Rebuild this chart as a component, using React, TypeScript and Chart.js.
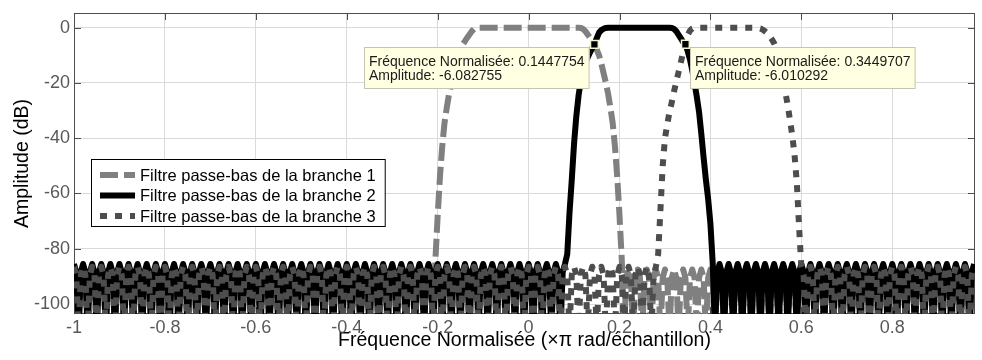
import React, { useEffect, useRef } from 'react';
import { Chart, registerables } from 'chart.js';

Chart.register(...registerables);

const FONT = "'Liberation Sans', Arial, Helvetica, sans-serif";

// Normalised frequency grid (x pi rad/sample)
const freq = [
  -1, -0.995, -0.99, -0.985, -0.98, -0.975, -0.97, -0.965,
  -0.96, -0.955, -0.95, -0.945, -0.94, -0.935, -0.93, -0.925,
  -0.92, -0.915, -0.91, -0.905, -0.9, -0.895, -0.89, -0.885,
  -0.88, -0.875, -0.87, -0.865, -0.86, -0.855, -0.85, -0.845,
  -0.84, -0.835, -0.83, -0.825, -0.82, -0.815, -0.81, -0.805,
  -0.8, -0.795, -0.79, -0.785, -0.78, -0.775, -0.77, -0.765,
  -0.76, -0.755, -0.75, -0.745, -0.74, -0.735, -0.73, -0.725,
  -0.72, -0.715, -0.71, -0.705, -0.7, -0.695, -0.69, -0.685,
  -0.68, -0.675, -0.67, -0.665, -0.66, -0.655, -0.65, -0.645,
  -0.64, -0.635, -0.63, -0.625, -0.62, -0.615, -0.61, -0.605,
  -0.6, -0.595, -0.59, -0.585, -0.58, -0.575, -0.57, -0.565,
  -0.56, -0.555, -0.55, -0.545, -0.54, -0.535, -0.53, -0.525,
  -0.52, -0.515, -0.51, -0.505, -0.5, -0.495, -0.49, -0.485,
  -0.48, -0.475, -0.47, -0.465, -0.46, -0.455, -0.45, -0.445,
  -0.44, -0.435, -0.43, -0.425, -0.42, -0.415, -0.41, -0.405,
  -0.4, -0.395, -0.39, -0.385, -0.38, -0.375, -0.37, -0.365,
  -0.36, -0.355, -0.35, -0.345, -0.34, -0.335, -0.33, -0.325,
  -0.32, -0.315, -0.31, -0.305, -0.3, -0.295, -0.29, -0.285,
  -0.28, -0.275, -0.27, -0.265, -0.26, -0.255, -0.25, -0.245,
  -0.24, -0.235, -0.23, -0.225, -0.22, -0.215, -0.21, -0.205,
  -0.2, -0.195, -0.19, -0.185, -0.18, -0.175, -0.17, -0.165,
  -0.16, -0.155, -0.15, -0.145, -0.14, -0.135, -0.13, -0.125,
  -0.12, -0.115, -0.11, -0.105, -0.1, -0.095, -0.09, -0.085,
  -0.08, -0.075, -0.07, -0.065, -0.06, -0.055, -0.05, -0.045,
  -0.04, -0.035, -0.03, -0.025, -0.02, -0.015, -0.01, -0.005,
  0, 0.005, 0.01, 0.015, 0.02, 0.025, 0.03, 0.035,
  0.04, 0.045, 0.05, 0.055, 0.06, 0.065, 0.07, 0.075,
  0.08, 0.085, 0.09, 0.095, 0.1, 0.105, 0.11, 0.115,
  0.12, 0.125, 0.13, 0.135, 0.14, 0.145, 0.15, 0.155,
  0.16, 0.165, 0.17, 0.175, 0.18, 0.185, 0.19, 0.195,
  0.2, 0.205, 0.21, 0.215, 0.22, 0.225, 0.23, 0.235,
  0.24, 0.245, 0.25, 0.255, 0.26, 0.265, 0.27, 0.275,
  0.28, 0.285, 0.29, 0.295, 0.3, 0.305, 0.31, 0.315,
  0.32, 0.325, 0.33, 0.335, 0.34, 0.345, 0.35, 0.355,
  0.36, 0.365, 0.37, 0.375, 0.38, 0.385, 0.39, 0.395,
  0.4, 0.405, 0.41, 0.415, 0.42, 0.425, 0.43, 0.435,
  0.44, 0.445, 0.45, 0.455, 0.46, 0.465, 0.47, 0.475,
  0.48, 0.485, 0.49, 0.495, 0.5, 0.505, 0.51, 0.515,
  0.52, 0.525, 0.53, 0.535, 0.54, 0.545, 0.55, 0.555,
  0.56, 0.565, 0.57, 0.575, 0.58, 0.585, 0.59, 0.595,
  0.6, 0.605, 0.61, 0.615, 0.62, 0.625, 0.63, 0.635,
  0.64, 0.645, 0.65, 0.655, 0.66, 0.665, 0.67, 0.675,
  0.68, 0.685, 0.69, 0.695, 0.7, 0.705, 0.71, 0.715,
  0.72, 0.725, 0.73, 0.735, 0.74, 0.745, 0.75, 0.755,
  0.76, 0.765, 0.77, 0.775, 0.78, 0.785, 0.79, 0.795,
  0.8, 0.805, 0.81, 0.815, 0.82, 0.825, 0.83, 0.835,
  0.84, 0.845, 0.85, 0.855, 0.86, 0.865, 0.87, 0.875,
  0.88, 0.885, 0.89, 0.895, 0.9, 0.905, 0.91, 0.915,
  0.92, 0.925, 0.93, 0.935, 0.94, 0.945, 0.95, 0.955,
  0.96, 0.965, 0.97, 0.975, 0.98,
];

// Branch 1 low-pass filter response (dB)
const branch1Db = [
  -87.5, -90.5, -110, -90.5, -87.5, -90.5, -110, -90.5,
  -87.5, -90.5, -110, -90.5, -87.5, -90.5, -110, -90.5,
  -87.5, -90.5, -110, -90.5, -87.5, -90.5, -110, -90.5,
  -87.5, -90.5, -110, -90.5, -87.5, -90.5, -110, -90.5,
  -87.5, -90.5, -110, -90.5, -87.5, -90.5, -110, -90.5,
  -87.5, -90.5, -110, -90.5, -87.5, -90.5, -110, -90.5,
  -87.5, -90.5, -110, -90.5, -87.5, -90.5, -110, -90.5,
  -87.5, -90.5, -110, -90.5, -87.5, -90.5, -110, -90.5,
  -87.5, -90.5, -110, -90.5, -87.5, -90.5, -110, -90.5,
  -87.5, -90.5, -110, -90.5, -87.5, -90.5, -110, -90.5,
  -87.5, -90.5, -110, -90.5, -87.5, -90.5, -110, -90.5,
  -87.5, -90.5, -110, -90.5, -87.5, -90.5, -110, -90.5,
  -87.5, -90.5, -110, -90.5, -87.5, -90.5, -110, -90.5,
  -87.5, -90.5, -110, -90.5, -87.5, -90.5, -110, -90.5,
  -87.5, -90.5, -110, -90.5, -87.5, -90.5, -110, -90.5,
  -87.5, -90.5, -110, -90.5, -87.5, -90.5, -110, -90.5,
  -87.5, -90.5, -110, -90.5, -87.5, -90.5, -110, -90.5,
  -87.5, -90.5, -110, -90.5, -87.5, -90.5, -110, -90.5,
  -87.5, -90.5, -110, -90.5, -87.5, -90.5, -110, -90.5,
  -87.5, -90.5, -110, -90.5, -87.5, -90.5, -110, -84,
  -68, -54, -43, -34.5, -29, -24, -20, -16.5,
  -13, -10, -8, -6.1, -4.9, -3.6, -2.5, -1.3,
  -0.5, -0.1, 0, 0, 0, 0, 0, 0,
  0, 0, 0, 0, 0, 0, 0, 0,
  0, 0, 0, 0, 0, 0, 0, 0,
  0, 0, 0, 0, 0, 0, 0, 0,
  0, 0, 0, 0, 0, 0, 0, 0,
  0, 0, 0, 0, 0, 0, 0, -0.1,
  -0.5, -1.3, -2.5, -3.6, -4.9, -6.1, -8, -10,
  -13, -16.5, -20, -24, -29, -34.5, -43, -54,
  -68, -84, -110, -90.5, -87.5, -90.5, -110, -90.5,
  -87.5, -90.5, -110, -90.5, -87.5, -90.5, -110, -90.5,
  -87.5, -90.5, -110, -90.5, -87.5, -90.5, -110, -90.5,
  -87.5, -90.5, -110, -90.5, -87.5, -90.5, -110, -90.5,
  -87.5, -90.5, -110, -90.5, -87.5, -90.5, -110, -90.5,
  -87.5, -90.5, -110, -90.5, -87.5, -90.5, -110, -90.5,
  -87.5, -90.5, -110, -90.5, -87.5, -90.5, -110, -90.5,
  -87.5, -90.5, -110, -90.5, -87.5, -90.5, -110, -90.5,
  -87.5, -90.5, -110, -90.5, -87.5, -90.5, -110, -90.5,
  -87.5, -90.5, -110, -90.5, -87.5, -90.5, -110, -90.5,
  -87.5, -90.5, -110, -90.5, -87.5, -90.5, -110, -90.5,
  -87.5, -90.5, -110, -90.5, -87.5, -90.5, -110, -90.5,
  -87.5, -90.5, -110, -90.5, -87.5, -90.5, -110, -90.5,
  -87.5, -90.5, -110, -90.5, -87.5, -90.5, -110, -90.5,
  -87.5, -90.5, -110, -90.5, -87.5, -90.5, -110, -90.5,
  -87.5, -90.5, -110, -90.5, -87.5, -90.5, -110, -90.5,
  -87.5, -90.5, -110, -90.5, -87.5, -90.5, -110, -90.5,
  -87.5, -90.5, -110, -90.5, -87.5, -90.5, -110, -90.5,
  -87.5, -90.5, -110, -90.5, -87.5, -90.5, -110, -90.5,
  -87.5, -90.5, -110, -90.5, -87.5,
];

// Branch 2 low-pass filter response (dB)
const branch2Db = [
  -85.5, -88.5, -110, -88.5, -85.5, -88.5, -110, -88.5,
  -85.5, -88.5, -110, -88.5, -85.5, -88.5, -110, -88.5,
  -85.5, -88.5, -110, -88.5, -85.5, -88.5, -110, -88.5,
  -85.5, -88.5, -110, -88.5, -85.5, -88.5, -110, -88.5,
  -85.5, -88.5, -110, -88.5, -85.5, -88.5, -110, -88.5,
  -85.5, -88.5, -110, -88.5, -85.5, -88.5, -110, -88.5,
  -85.5, -88.5, -110, -88.5, -85.5, -88.5, -110, -88.5,
  -85.5, -88.5, -110, -88.5, -85.5, -88.5, -110, -88.5,
  -85.5, -88.5, -110, -88.5, -85.5, -88.5, -110, -88.5,
  -85.5, -88.5, -110, -88.5, -85.5, -88.5, -110, -88.5,
  -85.5, -88.5, -110, -88.5, -85.5, -88.5, -110, -88.5,
  -85.5, -88.5, -110, -88.5, -85.5, -88.5, -110, -88.5,
  -85.5, -88.5, -110, -88.5, -85.5, -88.5, -110, -88.5,
  -85.5, -88.5, -110, -88.5, -85.5, -88.5, -110, -88.5,
  -85.5, -88.5, -110, -88.5, -85.5, -88.5, -110, -88.5,
  -85.5, -88.5, -110, -88.5, -85.5, -88.5, -110, -88.5,
  -85.5, -88.5, -110, -88.5, -85.5, -88.5, -110, -88.5,
  -85.5, -88.5, -110, -88.5, -85.5, -88.5, -110, -88.5,
  -85.5, -88.5, -110, -88.5, -85.5, -88.5, -110, -88.5,
  -85.5, -88.5, -110, -88.5, -85.5, -88.5, -110, -88.5,
  -85.5, -88.5, -110, -88.5, -85.5, -88.5, -110, -88.5,
  -85.5, -88.5, -110, -88.5, -85.5, -88.5, -110, -88.5,
  -85.5, -88.5, -110, -88.5, -85.5, -88.5, -110, -88.5,
  -85.5, -88.5, -110, -88.5, -85.5, -88.5, -110, -88.5,
  -85.5, -88.5, -110, -88.5, -85.5, -88.5, -110, -88.5,
  -85.5, -88.5, -110, -88.5, -85.5, -88.5, -110, -88.5,
  -85.5, -88.5, -110, -88.5, -85.5, -88.5, -110, -88.5,
  -85.5, -82, -67, -55, -42, -32, -24.5, -19,
  -15.5, -12.8, -10.8, -9, -7.4, -5.9, -3.8, -1.8,
  -0.9, -0.4, -0.1, 0, 0, 0, 0, 0,
  0, 0, 0, 0, 0, 0, 0, 0,
  0, 0, 0, 0, 0, 0, 0, 0,
  0, 0, 0, 0, 0, 0, 0, -0.1,
  -0.5, -1.3, -2.6, -3.9, -5.2, -6, -8.5, -11.5,
  -15.5, -20, -25, -30.5, -38.5, -47, -55, -62,
  -71, -85, -110, -88.5, -85.5, -88.5, -110, -88.5,
  -85.5, -88.5, -110, -88.5, -85.5, -88.5, -110, -88.5,
  -85.5, -88.5, -110, -88.5, -85.5, -88.5, -110, -88.5,
  -85.5, -88.5, -110, -88.5, -85.5, -88.5, -110, -88.5,
  -85.5, -88.5, -110, -88.5, -85.5, -88.5, -110, -88.5,
  -85.5, -88.5, -110, -88.5, -85.5, -88.5, -110, -88.5,
  -85.5, -88.5, -110, -88.5, -85.5, -88.5, -110, -88.5,
  -85.5, -88.5, -110, -88.5, -85.5, -88.5, -110, -88.5,
  -85.5, -88.5, -110, -88.5, -85.5, -88.5, -110, -88.5,
  -85.5, -88.5, -110, -88.5, -85.5, -88.5, -110, -88.5,
  -85.5, -88.5, -110, -88.5, -85.5, -88.5, -110, -88.5,
  -85.5, -88.5, -110, -88.5, -85.5, -88.5, -110, -88.5,
  -85.5, -88.5, -110, -88.5, -85.5, -88.5, -110, -88.5,
  -85.5, -88.5, -110, -88.5, -85.5, -88.5, -110, -88.5,
  -85.5, -88.5, -110, -88.5, -85.5,
];

// Branch 3 low-pass filter response (dB)
const branch3Db = [
  -86.5, -89.5, -110, -89.5, -86.5, -89.5, -110, -89.5,
  -86.5, -89.5, -110, -89.5, -86.5, -89.5, -110, -89.5,
  -86.5, -89.5, -110, -89.5, -86.5, -89.5, -110, -89.5,
  -86.5, -89.5, -110, -89.5, -86.5, -89.5, -110, -89.5,
  -86.5, -89.5, -110, -89.5, -86.5, -89.5, -110, -89.5,
  -86.5, -89.5, -110, -89.5, -86.5, -89.5, -110, -89.5,
  -86.5, -89.5, -110, -89.5, -86.5, -89.5, -110, -89.5,
  -86.5, -89.5, -110, -89.5, -86.5, -89.5, -110, -89.5,
  -86.5, -89.5, -110, -89.5, -86.5, -89.5, -110, -89.5,
  -86.5, -89.5, -110, -89.5, -86.5, -89.5, -110, -89.5,
  -86.5, -89.5, -110, -89.5, -86.5, -89.5, -110, -89.5,
  -86.5, -89.5, -110, -89.5, -86.5, -89.5, -110, -89.5,
  -86.5, -89.5, -110, -89.5, -86.5, -89.5, -110, -89.5,
  -86.5, -89.5, -110, -89.5, -86.5, -89.5, -110, -89.5,
  -86.5, -89.5, -110, -89.5, -86.5, -89.5, -110, -89.5,
  -86.5, -89.5, -110, -89.5, -86.5, -89.5, -110, -89.5,
  -86.5, -89.5, -110, -89.5, -86.5, -89.5, -110, -89.5,
  -86.5, -89.5, -110, -89.5, -86.5, -89.5, -110, -89.5,
  -86.5, -89.5, -110, -89.5, -86.5, -89.5, -110, -89.5,
  -86.5, -89.5, -110, -89.5, -86.5, -89.5, -110, -89.5,
  -86.5, -89.5, -110, -89.5, -86.5, -89.5, -110, -89.5,
  -86.5, -89.5, -110, -89.5, -86.5, -89.5, -110, -89.5,
  -86.5, -89.5, -110, -89.5, -86.5, -89.5, -110, -89.5,
  -86.5, -89.5, -110, -89.5, -86.5, -89.5, -110, -89.5,
  -86.5, -89.5, -110, -89.5, -86.5, -89.5, -110, -89.5,
  -86.5, -89.5, -110, -89.5, -86.5, -89.5, -110, -89.5,
  -86.5, -89.5, -110, -89.5, -86.5, -89.5, -110, -89.5,
  -86.5, -89.5, -110, -89.5, -86.5, -89.5, -110, -89.5,
  -86.5, -89.5, -110, -89.5, -86.5, -89.5, -110, -89.5,
  -86.5, -89.5, -110, -89.5, -86.5, -89.5, -110, -89.5,
  -86.5, -89.5, -110, -89.5, -86.5, -89.5, -110, -89.5,
  -86.5, -89.5, -110, -89.5, -86.5, -89.5, -110, -89.5,
  -86.5, -82, -66, -50, -40, -35, -30.5, -27,
  -23, -19.5, -16, -12.5, -8.8, -5.5, -2.6, -1.1,
  -0.3, 0, 0, 0, 0, 0, 0, 0,
  0, 0, 0, 0, 0, 0, 0, 0,
  0, 0, 0, 0, 0, 0, 0, 0,
  0, 0, 0, 0, 0, -0.1, -0.3, -0.7,
  -1.3, -2, -3, -4.2, -5.6, -7.5, -10.5, -14,
  -18.5, -23.5, -28, -33.5, -39, -46, -56, -72,
  -86.5, -89.5, -110, -89.5, -86.5, -89.5, -110, -89.5,
  -86.5, -89.5, -110, -89.5, -86.5, -89.5, -110, -89.5,
  -86.5, -89.5, -110, -89.5, -86.5, -89.5, -110, -89.5,
  -86.5, -89.5, -110, -89.5, -86.5, -89.5, -110, -89.5,
  -86.5, -89.5, -110, -89.5, -86.5, -89.5, -110, -89.5,
  -86.5, -89.5, -110, -89.5, -86.5, -89.5, -110, -89.5,
  -86.5, -89.5, -110, -89.5, -86.5, -89.5, -110, -89.5,
  -86.5, -89.5, -110, -89.5, -86.5, -89.5, -110, -89.5,
  -86.5, -89.5, -110, -89.5, -86.5, -89.5, -110, -89.5,
  -86.5, -89.5, -110, -89.5, -86.5,
];

const seriesNames = [
  'Filtre passe-bas de la branche 1',
  'Filtre passe-bas de la branche 2',
  'Filtre passe-bas de la branche 3',
];

// Data tips
const tipFreq = [0.1447754, 0.3449707];
const tipAmp = [-6.082755, -6.010292];

const xTicks = [-1, -0.8, -0.6, -0.4, -0.2, 0, 0.2, 0.4, 0.6, 0.8];
const yTicks = [-100, -80, -60, -40, -20, 0];

const xTitle = 'Fréquence Normalisée (×π rad/échantillon)';
const yTitle = 'Amplitude (dB)';

const toPts = (ys: number[]) => freq.map((f, i) => ({ x: f, y: ys[i] }));

const overlayPlugin = {
  id: 'overlay',
  beforeDatasetsDraw(chart: any) {
    const { ctx, chartArea: a, scales } = chart;
    ctx.save();
    ctx.strokeStyle = '#4d4d4d';
    ctx.lineWidth = 1;
    ctx.strokeRect(a.left + 0.5, a.top + 0.5, a.right - a.left - 1, a.bottom - a.top - 1);
    const tl = 7;
    ctx.beginPath();
    for (const v of xTicks) {
      const px = Math.round(scales.x.getPixelForValue(v)) + 0.5;
      ctx.moveTo(px, a.top);
      ctx.lineTo(px, a.top + tl);
      ctx.moveTo(px, a.bottom);
      ctx.lineTo(px, a.bottom - tl);
    }
    for (const v of yTicks) {
      const py = Math.round(scales.y.getPixelForValue(v)) + 0.5;
      ctx.moveTo(a.left, py);
      ctx.lineTo(a.left + tl, py);
      ctx.moveTo(a.right, py);
      ctx.lineTo(a.right - tl, py);
    }
    ctx.stroke();
    ctx.restore();
  },
  afterDatasetsDraw(chart: any) {
    const { ctx, chartArea: a, scales } = chart;
    ctx.save();
    // Legend
    ctx.font = `16.5px ${FONT}`;
    let tw = 0;
    for (const n of seriesNames) tw = Math.max(tw, ctx.measureText(n).width);
    const lx = a.left + 17;
    const ly = a.top + 146;
    const lw = 49 + tw + 9;
    const lh = 67;
    ctx.fillStyle = '#ffffff';
    ctx.fillRect(lx, ly, lw, lh);
    ctx.strokeStyle = '#000000';
    ctx.lineWidth = 1;
    ctx.setLineDash([]);
    ctx.strokeRect(lx + 0.5, ly + 0.5, lw, lh);
    seriesNames.forEach((name, k) => {
      const ds = chart.data.datasets[k];
      const yc = ly + 16 + k * 20.5;
      ctx.save();
      ctx.setLineDash(ds.borderDash || []);
      ctx.lineWidth = ds.borderWidth;
      ctx.strokeStyle = ds.borderColor;
      ctx.lineCap = 'butt';
      ctx.beginPath();
      ctx.moveTo(lx + 9, yc);
      ctx.lineTo(lx + 44, yc);
      ctx.stroke();
      ctx.restore();
      ctx.fillStyle = '#000000';
      ctx.textAlign = 'left';
      ctx.textBaseline = 'middle';
      ctx.fillText(name, lx + 49, yc + 1);
    });
    // Data tips
    ctx.font = `14px ${FONT}`;
    tipFreq.forEach((f, i) => {
      const mx = scales.x.getPixelForValue(f);
      const my = scales.y.getPixelForValue(tipAmp[i]);
      const l1 = `Fréquence Normalisée: ${f}`;
      const l2 = `Amplitude: ${tipAmp[i]}`;
      const w = Math.max(ctx.measureText(l1).width, ctx.measureText(l2).width) + 10;
      const h = 42;
      const left = Math.round(i === 0 ? mx - 5 - w : mx + 5);
      const top = Math.round(my + 3);
      ctx.fillStyle = '#ffffe1';
      ctx.fillRect(left, top, w, h);
      ctx.strokeStyle = '#c4c4b0';
      ctx.lineWidth = 1;
      ctx.strokeRect(left + 0.5, top + 0.5, w - 1, h - 1);
      ctx.fillStyle = '#1a1a1a';
      ctx.textAlign = 'left';
      ctx.textBaseline = 'alphabetic';
      ctx.fillText(l1, left + 5, top + 19);
      ctx.fillText(l2, left + 5, top + 33);
    });
    ctx.restore();
  },
};

export default function App() {
  const ref = useRef<HTMLCanvasElement>(null);
  useEffect(() => {
    Chart.defaults.font.family = FONT;
    const chart = new Chart(ref.current as HTMLCanvasElement, {
      type: 'line',
      data: {
        datasets: [
          {
            label: seriesNames[0],
            data: toPts(branch1Db),
            borderColor: '#808080',
            borderWidth: 6,
            borderDash: [18, 6],
            borderJoinStyle: 'round',
            pointRadius: 0,
            clip: 0,
            order: 3,
          } as any,
          {
            label: seriesNames[1],
            data: toPts(branch2Db),
            borderColor: '#000000',
            borderWidth: 6,
            borderDash: [],
            borderJoinStyle: 'round',
            pointRadius: 0,
            clip: 0,
            order: 2,
          },
          {
            label: seriesNames[2],
            data: toPts(branch3Db),
            borderColor: '#4d4d4d',
            borderWidth: 6,
            borderDash: [7, 8],
            borderJoinStyle: 'round',
            pointRadius: 0,
            clip: 0,
            order: 1,
          },
          {
            label: 'tips',
            data: tipFreq.map((f, i) => ({ x: f, y: tipAmp[i] })),
            showLine: false,
            pointStyle: 'rect',
            pointRadius: 5.5,
            pointBackgroundColor: '#000000',
            pointBorderColor: '#f2f2c8',
            pointBorderWidth: 1.5,
            clip: false,
            order: 0,
          } as any,
        ],
      },
      options: {
        responsive: false,
        animation: false,
        devicePixelRatio: 1,
        events: [],
        layout: { padding: { top: 9, right: 1, left: 0, bottom: 0 } },
        plugins: { legend: { display: false }, tooltip: { enabled: false } },
        scales: {
          x: {
            type: 'linear',
            min: -1,
            max: 0.982,
            afterBuildTicks: (s: any) => {
              s.ticks = xTicks.map((v) => ({ value: v }));
            },
            afterFit: (s: any) => {
              s.height = 46;
            },
            grid: { color: '#dadada', lineWidth: 1, drawTicks: false },
            border: { display: false },
            ticks: {
              color: '#595959',
              font: { size: 18 },
              padding: 3,
              maxRotation: 0,
              autoSkip: false,
              includeBounds: false,
              callback: (v: any) => String(v),
            },
            title: {
              display: true,
              text: xTitle,
              color: '#000000',
              font: { size: 19.5 },
              padding: { top: 0, bottom: 8 },
            },
          },
          y: {
            type: 'linear',
            min: -103.6,
            max: 5.3,
            afterBuildTicks: (s: any) => {
              s.ticks = yTicks.map((v) => ({ value: v }));
            },
            afterFit: (s: any) => {
              s.width = 74;
            },
            grid: { color: '#dadada', lineWidth: 1, drawTicks: false },
            border: { display: false },
            ticks: {
              color: '#595959',
              font: { size: 18, lineHeight: 1 },
              padding: 4,
              callback: (v: any) => String(v),
            },
            title: {
              display: true,
              text: yTitle,
              color: '#000000',
              font: { size: 19.5 },
              padding: { top: 11, bottom: 0 },
            },
          },
        },
      } as any,
      plugins: [overlayPlugin],
    });
    return () => chart.destroy();
  }, []);
  return (
    <div style={{ position: 'fixed', left: 0, top: 0, width: 982, height: 360, background: '#ffffff' }}>
      <canvas ref={ref} width={982} height={360} style={{ display: 'block', width: 982, height: 360 }} />
    </div>
  );
}
